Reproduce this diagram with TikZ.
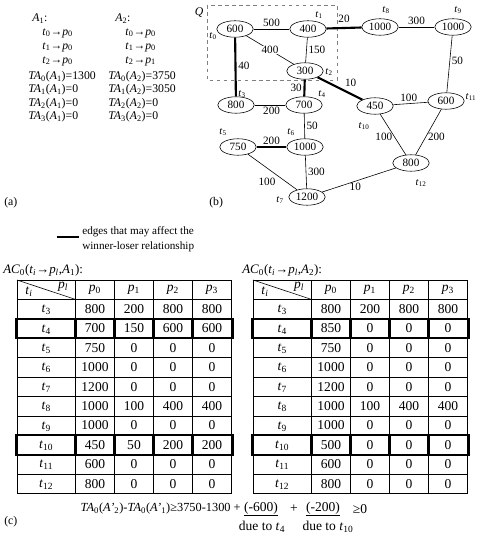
\documentclass[tikz,border=0pt]{standalone}
\usepackage{fontspec}
\setmainfont{Liberation Serif}
\usetikzlibrary{shapes.geometric}

\newcommand{\sbx}[2]{\textit{#1}\textsubscript{#2}}
\newcommand{\tto}{→}

\tikzset{
  task/.style={ellipse, draw, minimum width=31pt, minimum height=14pt, inner sep=0pt, font=\fontsize{9.5}{10}\selectfont},
  tlbl/.style={font=\fontsize{9}{10}\selectfont, inner sep=0pt},
  wt/.style={font=\fontsize{9.5}{10}\selectfont, inner sep=1.5pt},
  crit/.style={line width=1.8pt},
  cell/.style={font=\fontsize{11.5}{13}\selectfont, inner sep=0pt},
  txt/.style={font=\fontsize{10}{11}\selectfont, inner sep=0pt, anchor=west},
}

\begin{document}
\begin{tikzpicture}[x=0.85pt, y=-0.85pt, line width=0.5pt]
  \useasboundingbox[fill=white] (0,0) rectangle (478,538);

  % (a) assignments
  \node[txt] (a1) at (32,19) {\sbx{A}{1}:};
  \node[txt] (a2) at (115,19) {\sbx{A}{2}:};
  \node[txt] (a1r0) at (42,33) {\sbx{t}{0}\tto\sbx{p}{0}};
  \node[txt] (a1r1) at (42,47) {\sbx{t}{1}\tto\sbx{p}{0}};
  \node[txt] (a1r2) at (42,61) {\sbx{t}{2}\tto\sbx{p}{0}};
  \node[txt] (a2r0) at (125,33) {\sbx{t}{0}\tto\sbx{p}{0}};
  \node[txt] (a2r1) at (125,47) {\sbx{t}{1}\tto\sbx{p}{0}};
  \node[txt] (a2r2) at (125,61) {\sbx{t}{2}\tto\sbx{p}{1}};
  \node[txt] (ta10) at (28,77) {\sbx{TA}{0}(\sbx{A}{1})=1300};
  \node[txt] (ta11) at (28,90) {\sbx{TA}{1}(\sbx{A}{1})=0};
  \node[txt] (ta12) at (28,104) {\sbx{TA}{2}(\sbx{A}{1})=0};
  \node[txt] (ta13) at (28,117) {\sbx{TA}{3}(\sbx{A}{1})=0};
  \node[txt] (ta20) at (108,77) {\sbx{TA}{0}(\sbx{A}{2})=3750};
  \node[txt] (ta21) at (108,90) {\sbx{TA}{1}(\sbx{A}{2})=3050};
  \node[txt] (ta22) at (108,104) {\sbx{TA}{2}(\sbx{A}{2})=0};
  \node[txt] (ta23) at (108,117) {\sbx{TA}{3}(\sbx{A}{2})=0};
  \node[txt] (capa) at (4,203) {(a)};

  % (b) task graph
  \draw[dashed, gray] (207,5) rectangle (337,80);
  \node[tlbl, font=\fontsize{10}{11}\selectfont] (Q) at (199,13) {\textit{Q}};

  \node[task] (t0) at (235,29) {600};
  \node[task] (t1) at (308,29) {400};
  \node[task] (t8) at (380,27) {1000};
  \node[task] (t9) at (453,27) {1000};
  \node[task] (t2) at (305,71) {300};
  \node[task] (t3) at (236,105) {800};
  \node[task] (t4) at (304,105) {700};
  \node[task] (t10) at (375,106) {450};
  \node[task] (t11) at (446,101) {600};
  \node[task] (t5) at (238,147) {750};
  \node[task] (t6) at (305,147) {1000};
  \node[task] (t12) at (411,163) {800};
  \node[task] (t7) at (307,197) {1200};

  \node[tlbl] (l0) at (213,36) {\sbx{t}{0}};
  \node[tlbl] (l1) at (319,15) {\sbx{t}{1}};
  \node[tlbl] (l8) at (386,10) {\sbx{t}{8}};
  \node[tlbl] (l9) at (458,10) {\sbx{t}{9}};
  \node[tlbl] (l2) at (329,72) {\sbx{t}{2}};
  \node[tlbl] (l3) at (242,94) {\sbx{t}{3}};
  \node[tlbl] (l4) at (322,94) {\sbx{t}{4}};
  \node[tlbl] (l10) at (364,126) {\sbx{t}{10}};
  \node[tlbl] (l11) at (471,97) {\sbx{t}{11}};
  \node[tlbl] (l5) at (223,132) {\sbx{t}{5}};
  \node[tlbl] (l6) at (291,132) {\sbx{t}{6}};
  \node[tlbl] (l12) at (421,183) {\sbx{t}{12}};
  \node[tlbl] (l7) at (280,200) {\sbx{t}{7}};

  \draw (t0) -- node[wt, above] {500} (t1);
  \draw[crit] (t1) -- node[wt, above=2pt] {20} (t8);
  \draw (t8) -- node[wt, above] {300} (t9);
  \draw (t9) -- node[wt, right, pos=0.45] {50} (t11);
  \draw (t0) -- node[wt, fill=white, inner sep=0.5pt] {400} (t2);
  \draw (t1) -- node[wt, right] {150} (t2);
  \draw[crit] (t0) -- node[wt, right, pos=0.48] {40} (t3);
  \draw[crit] (t2) -- node[wt, left] {30} (t4);
  \draw[crit] (t2) -- node[wt, above right, pos=0.55] {10} (t10);
  \draw (t3) -- node[wt, below, pos=0.55] {200} (t4);
  \draw (t4) -- node[wt, right] {50} (t6);
  \draw (t10) -- node[wt, above, pos=0.45] {100} (t11);
  \draw (t10) -- node[wt, left, pos=0.55] {100} (t12);
  \draw (t11) -- node[wt, right, pos=0.6] {200} (t12);
  \draw[line width=0.9pt] (t5) -- node[wt, above] {200} (t6);
  \draw (t5) -- node[wt, below left, pos=0.6] {100} (t7);
  \draw (t6) -- node[wt, right] {300} (t7);
  \draw (t7) -- node[wt, below, pos=0.45] {10} (t12);
  \node[txt] (capb) at (209,203) {(b)};

  % legend
  \coordinate (lg0) at (57,237);
  \coordinate (lg1) at (79,237);
  \draw[crit] (lg0) -- (lg1);
  \node[txt, font=\fontsize{9.5}{11}\selectfont] (lgt0) at (82,232) {edges that may affect the};
  \node[txt, font=\fontsize{9.5}{11}\selectfont] (lgt1) at (82,247) {winner-loser relationship};

  % (c) tables
  \node[txt, font=\fontsize{11}{13}\selectfont] (ac1) at (3,270) {\sbx{AC}{0}(\sbx{t}{\textit{i}}\tto\sbx{p}{\textit{l}},\sbx{A}{1}):};
  \node[txt, font=\fontsize{11}{13}\selectfont] (ac2) at (242,270) {\sbx{AC}{0}(\sbx{t}{\textit{i}}\tto\sbx{p}{\textit{l}},\sbx{A}{2}):};

  \begin{scope}[shift={(17,280)}]
    \foreach \k in {0,...,11} \draw (0,{19.4*\k}) -- (214.5,{19.4*\k});
    \foreach \x in {0,58.5,97.5,136.5,175.5,214.5} \draw (\x,0) -- (\x,213.4);
    \draw (0,0) -- (58.5,19.4);
    \node[cell] (L-ti) at (12,12) {\sbx{t}{\textit{i}}};
    \node[cell] (L-pl) at (46,7) {\sbx{p}{\textit{l}}};
    \foreach \c/\x in {0/78,1/117,2/156,3/195}
      \node[cell] (L-p\c) at (\x,10) {\sbx{p}{\c}};
    \foreach \r/\a/\b/\c/\d [count=\k] in {3/800/200/800/800, 4/700/150/600/600,
        5/750/0/0/0, 6/1000/0/0/0, 7/1200/0/0/0, 8/1000/100/400/400, 9/1000/0/0/0,
        10/450/50/200/200, 11/600/0/0/0, 12/800/0/0/0} {
      \node[cell] (L\r-t) at (29.25,{19.4*\k+10.5}) {\sbx{t}{\r}};
      \node[cell] (L\r-0) at (78,{19.4*\k+9.7}) {\a};
      \node[cell] (L\r-1) at (117,{19.4*\k+9.7}) {\b};
      \node[cell] (L\r-2) at (156,{19.4*\k+9.7}) {\c};
      \node[cell] (L\r-3) at (195,{19.4*\k+9.7}) {\d};
    }
    \foreach \k in {2,8}
      \foreach \xa/\xb in {-1/58.5,58.5/97.5,97.5/136.5,136.5/175.5,175.5/215.5}
        \draw[crit] (\xa,{19.4*\k}) rectangle (\xb,{19.4*(\k+1)});
  \end{scope}

  \begin{scope}[shift={(253,280)}]
    \foreach \k in {0,...,11} \draw (0,{19.4*\k}) -- (214.5,{19.4*\k});
    \foreach \x in {0,58.5,97.5,136.5,175.5,214.5} \draw (\x,0) -- (\x,213.4);
    \draw (0,0) -- (58.5,19.4);
    \node[cell] (R-ti) at (12,12) {\sbx{t}{\textit{i}}};
    \node[cell] (R-pl) at (46,7) {\sbx{p}{\textit{l}}};
    \foreach \c/\x in {0/78,1/117,2/156,3/195}
      \node[cell] (R-p\c) at (\x,10) {\sbx{p}{\c}};
    \foreach \r/\a/\b/\c/\d [count=\k] in {3/800/200/800/800, 4/850/0/0/0,
        5/750/0/0/0, 6/1000/0/0/0, 7/1200/0/0/0, 8/1000/100/400/400, 9/1000/0/0/0,
        10/500/0/0/0, 11/600/0/0/0, 12/800/0/0/0} {
      \node[cell] (R\r-t) at (29.25,{19.4*\k+10.5}) {\sbx{t}{\r}};
      \node[cell] (R\r-0) at (78,{19.4*\k+9.7}) {\a};
      \node[cell] (R\r-1) at (117,{19.4*\k+9.7}) {\b};
      \node[cell] (R\r-2) at (156,{19.4*\k+9.7}) {\c};
      \node[cell] (R\r-3) at (195,{19.4*\k+9.7}) {\d};
    }
    \foreach \k in {2,8}
      \foreach \xa/\xb in {-1/58.5,58.5/97.5,97.5/136.5,136.5/175.5,175.5/215.5}
        \draw[crit] (\xa,{19.4*\k}) rectangle (\xb,{19.4*(\k+1)});
  \end{scope}

  % inequality
  \node[cell, anchor=east, font=\fontsize{10.5}{12}\selectfont] (ineq) at (241,509) {\sbx{TA}{0}(\textit{A'}\textsubscript{2})-\sbx{TA}{0}(\textit{A'}\textsubscript{1})≥3750-1300 +};
  \node[cell] (d4) at (261,509) {\underline{(-600)}};
  \node[cell] (pl) at (294,509) {+};
  \node[cell] (d10) at (323,509) {\underline{(-200)}};
  \node[cell] (ge) at (360,509) {≥0};
  \node[cell] (due4) at (262,527) {due to \sbx{t}{4}};
  \node[cell] (due10) at (328,527) {due to \sbx{t}{10}};
  \node[txt] (capc) at (4,522) {(c)};
\end{tikzpicture}
\end{document}
